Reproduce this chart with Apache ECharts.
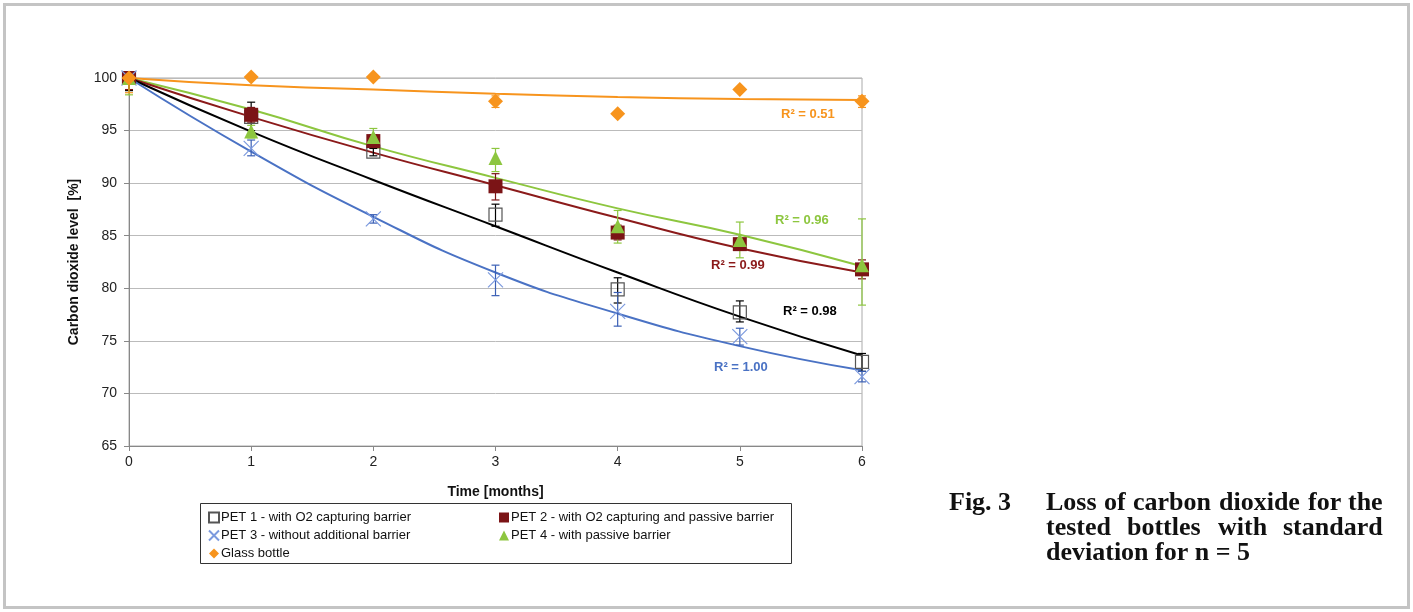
<!DOCTYPE html>
<html>
<head>
<meta charset="utf-8">
<title>Loss of carbon dioxide</title>
<script src="https://cdn.jsdelivr.net/npm/echarts@6/dist/echarts.min.js"></script>
<style>
  html, body { margin: 0; padding: 0; background: #fff; }
  #chart { width: 1413px; height: 612px; }
</style>
</head>
<body>
<div id="chart"></div>
<script>
// time axis, months
const months = [0, 1, 2, 3, 4, 5, 6];
const yTicks = [65, 70, 75, 80, 85, 90, 95, 100];

// measured means [%]
const pet1 = [100, 96.3, 93.0, 87.0, 79.9, 77.7, 73.0];
const pet2 = [100, 96.5, 94.0, 89.7, 85.3, 84.2, 81.8];
const pet3 = [100, 93.3, 86.6, 80.8, 77.8, 75.4, 71.6];
const pet4 = [100, 94.9, 94.4, 92.4, 85.9, 84.6, 82.2];
const glass = [100, 100.1, 100.1, 97.8, 96.6, 98.9, 97.8];

// standard deviation bars (low / high)
const pet1Lo = [98.8, 95.0, 92.6, 85.9, 78.6, 76.8, 72.1];
const pet1Hi = [101.2, 97.7, 93.3, 88.0, 81.0, 78.8, 73.8];
const pet2Lo = [98.9, 95.8, 93.4, 88.4, 84.6, 83.7, 80.9];
const pet2Hi = [101.1, 97.2, 94.6, 90.9, 86.0, 84.7, 82.7];
const pet3Lo = [99.4, 92.6, 86.2, 79.3, 76.4, 74.6, 71.1];
const pet3Hi = [100.6, 94.1, 87.0, 82.2, 79.6, 76.2, 72.1];
const pet4Lo = [98.4, 94.3, 93.6, 91.1, 84.3, 82.9, 78.4];
const pet4Hi = [101.6, 95.5, 95.2, 93.3, 87.4, 86.3, 86.6];
const glassLo = [98.6, 99.9, 99.9, 97.2, 96.4, 98.7, 97.2];
const glassHi = [101.4, 100.3, 100.3, 98.3, 96.8, 99.1, 98.3];

// trendlines
const trend1 = [100, 94.9, 90.3, 85.9, 81.5, 77.3, 73.6];
const trend2 = [100, 96.3, 92.9, 89.8, 86.7, 83.8, 81.5];
const trend3 = [100, 93.0, 86.8, 81.5, 77.6, 74.5, 72.2];
const trend4 = [100, 97.0, 93.5, 90.5, 87.6, 85.1, 82.1];
const trendG = [100, 99.3, 98.9, 98.5, 98.2, 98.0, 97.9];

const names = [
  'PET 1 - with O2 capturing barrier',
  'PET 2 - with O2 capturing and passive barrier',
  'PET 3 - without additional barrier',
  'PET 4 - with passive barrier',
  'Glass bottle'
];

const FONT = "'Liberation Sans', Arial, sans-serif";
const SERIF = "'Liberation Serif', 'Times New Roman', serif";
const Y_MAX = yTicks[yTicks.length - 1];

const pairs = ys => months.map((m, i) => [m, ys[i]]);
const bars = (lo, hi) => months.map((m, i) => [m, lo[i], hi[i]]);

function errorSeries(lo, hi, color) {
  return {
    type: 'custom',
    z: 3,
    silent: true,
    data: bars(lo, hi),
    renderItem(params, api) {
      const x = api.value(0);
      const top = api.value(2);
      const a = api.coord([x, api.value(1)]);
      const b = api.coord([x, Math.min(top, Y_MAX)]);
      const w = 4;
      const st = { stroke: color, lineWidth: 1.2 };
      const kids = [
        { type: 'line', shape: { x1: a[0], y1: a[1], x2: b[0], y2: b[1] }, style: st },
        { type: 'line', shape: { x1: a[0] - w, y1: a[1], x2: a[0] + w, y2: a[1] }, style: st }
      ];
      if (top <= Y_MAX) {
        kids.push({ type: 'line', shape: { x1: b[0] - w, y1: b[1], x2: b[0] + w, y2: b[1] }, style: st });
      }
      return { type: 'group', children: kids };
    }
  };
}

function trendSeries(ys, color) {
  return {
    type: 'line',
    z: 2,
    silent: true,
    smooth: true,
    showSymbol: false,
    data: pairs(ys),
    lineStyle: { color: color, width: 2 }
  };
}

// caption text, justified like the printed figure
const capFont = 'bold 26px ' + SERIF;
const measure = document.createElement('canvas').getContext('2d');
measure.font = capFont;
function capLine(text, left, right, top, justify) {
  const words = text.split(' ');
  if (!justify) {
    return [{ type: 'text', left: left, top: top, style: { text: text, fill: '#111', font: capFont } }];
  }
  const widths = words.map(w => measure.measureText(w).width);
  const sum = widths.reduce((s, v) => s + v, 0);
  const gap = (right - left - sum) / (words.length - 1);
  let x = left;
  return words.map((w, i) => {
    const el = { type: 'text', left: Math.round(x), top: top, style: { text: w, fill: '#111', font: capFont } };
    x += widths[i] + gap;
    return el;
  });
}

const chart = echarts.init(document.getElementById('chart'));

const r2 = (txt, left, top, color) => ({
  type: 'text', left: left, top: top,
  style: { text: txt, fill: color, font: 'bold 13px ' + FONT }
});

chart.setOption({
  animation: false,
  backgroundColor: '#fff',
  grid: {
    left: 129, right: 551, top: 78, bottom: 166,
    show: true, borderColor: '#aaa', borderWidth: 1, backgroundColor: '#fff'
  },
  xAxis: {
    type: 'value', min: 0, max: 6, interval: 1,
    name: 'Time [months]', nameLocation: 'middle', nameGap: 39,
    nameTextStyle: { fontFamily: FONT, fontWeight: 'bold', fontSize: 14, color: '#111' },
    axisLine: { show: true, lineStyle: { color: '#888', width: 1 } },
    axisTick: { show: true, length: 5, lineStyle: { color: '#888' } },
    axisLabel: { fontFamily: FONT, fontSize: 14, color: '#222', margin: 9 },
    splitLine: { show: false }
  },
  yAxis: {
    type: 'value', min: yTicks[0], max: Y_MAX, interval: 5,
    name: 'Carbon dioxide level  [%]', nameLocation: 'middle', nameGap: 48,
    nameTextStyle: { fontFamily: FONT, fontWeight: 'bold', fontSize: 14, color: '#111' },
    axisLine: { show: true, lineStyle: { color: '#888', width: 1 } },
    axisTick: { show: true, length: 5, lineStyle: { color: '#888' } },
    axisLabel: { fontFamily: FONT, fontSize: 14, color: '#222', margin: 12 },
    splitLine: { show: true, lineStyle: { color: '#bbb', width: 1 } }
  },
  legend: [
    {
      data: [names[0], names[2], names[4]],
      orient: 'vertical', left: 203, top: 506, itemGap: 5,
      itemWidth: 10, itemHeight: 10,
      textStyle: { fontFamily: FONT, fontSize: 13, color: '#111', padding: [0, 0, 0, -3] },
      selectedMode: false
    },
    {
      data: [names[1], names[3]],
      orient: 'vertical', left: 494, top: 506, itemGap: 5,
      itemWidth: 10, itemHeight: 10,
      textStyle: { fontFamily: FONT, fontSize: 13, color: '#111', padding: [0, 0, 0, -3] },
      selectedMode: false
    }
  ],
  graphic: [
    { type: 'rect', silent: true, shape: { x: 4.5, y: 4.5, width: 1404, height: 603 },
      style: { fill: 'none', stroke: '#c4c4c4', lineWidth: 3 } },
    { type: 'rect', silent: true, shape: { x: 200.5, y: 503.5, width: 591, height: 60 },
      style: { fill: 'none', stroke: '#333', lineWidth: 1 } },
    r2('R² = 0.51', 781, 108, '#f7941d'),
    r2('R² = 0.96', 775, 214, '#8dc63f'),
    r2('R² = 0.99', 711, 259, '#8b1a1a'),
    r2('R² = 0.98', 783, 305, '#000'),
    r2('R² = 1.00', 714, 361, '#4a72c4'),
    { type: 'text', left: 949, top: 490, style: { text: 'Fig. 3', fill: '#111', font: capFont } }
  ]
    .concat(capLine('Loss of carbon dioxide for the', 1046, 1383, 490, true))
    .concat(capLine('tested bottles with standard', 1046, 1383, 515, true))
    .concat(capLine('deviation for n = 5', 1046, 1383, 540, false)),
  series: [
    trendSeries(trendG, '#f7941d'),
    trendSeries(trend4, '#8dc63f'),
    trendSeries(trend2, '#8b1a1a'),
    trendSeries(trend1, '#000'),
    trendSeries(trend3, '#4a72c4'),
    errorSeries(pet1Lo, pet1Hi, '#000'),
    errorSeries(pet2Lo, pet2Hi, '#7b1416'),
    errorSeries(pet3Lo, pet3Hi, '#3a5fb5'),
    errorSeries(pet4Lo, pet4Hi, '#8dc63f'),
    errorSeries(glassLo, glassHi, '#f7941d'),
    {
      name: names[0], type: 'scatter', z: 4, clip: false, data: pairs(pet1),
      symbol: 'rect', symbolSize: 13,
      itemStyle: { color: 'rgba(255,255,255,0)', borderColor: '#555', borderWidth: 1.2, opacity: 1 }
    },
    {
      name: names[1], type: 'scatter', z: 4, clip: false, data: pairs(pet2),
      symbol: 'rect', symbolSize: 14,
      itemStyle: { color: '#7b1416', opacity: 1 }
    },
    {
      name: names[2], type: 'scatter', z: 4, clip: false, data: pairs(pet3),
      symbol: 'path://M0,0L10,10M10,0L0,10', symbolSize: 15,
      itemStyle: { color: 'rgba(0,0,0,0)', borderColor: '#7c9ade', borderWidth: 1.2, opacity: 1 }
    },
    {
      name: names[3], type: 'scatter', z: 4, clip: false, data: pairs(pet4),
      symbol: 'triangle', symbolSize: 14,
      itemStyle: { color: '#8dc63f', opacity: 1 }
    },
    {
      name: names[4], type: 'scatter', z: 4, clip: false, data: pairs(glass),
      symbol: 'diamond', symbolSize: 15,
      itemStyle: { color: '#f7941d', opacity: 1 }
    }
  ]
});
</script>
</body>
</html>
